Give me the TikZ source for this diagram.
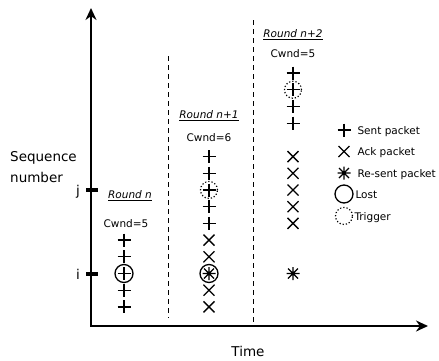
\documentclass[tikz,border=0pt]{standalone}
\usepackage{fontspec}
\setmainfont{DejaVu Sans}
\usetikzlibrary{arrows.meta}

\tikzset{
  mark line/.style={line width=1.3pt},
  sent/.pic={\draw[mark line] (-6.5,0) -- (6.5,0) (0,-6.5) -- (0,6.5);},
  ack/.pic={\draw[mark line] (-5.5,-5.5) -- (5.5,5.5) (-5.5,5.5) -- (5.5,-5.5);},
  resent/.pic={\draw[mark line] (-6.5,0) -- (6.5,0) (0,-6.5) -- (0,6.5)
                (-5,-5) -- (5,5) (-5,5) -- (5,-5);},
  lost/.style={draw, circle, line width=1.3pt, minimum size=18pt, inner sep=0pt},
  trigger/.style={draw, circle, dotted, line width=1.2pt, minimum size=17pt, inner sep=0pt},
  axis/.style={line width=2pt, {Stealth[length=12pt,width=11pt]}-{Stealth[length=12pt,width=11pt]}},
  tick/.style={line width=4pt},
  round sep/.style={dash pattern=on 5pt off 4pt, line width=1pt},
  big/.style={font=\fontsize{13.5}{21}\selectfont},
  small/.style={font=\fontsize{10.5}{12}\selectfont},
  legend/.style={font=\fontsize{10.5}{13}\selectfont, anchor=base west},
}

\begin{document}
\begin{tikzpicture}[x=1pt,y=-1pt]
    \useasboundingbox (0,0) rectangle (439,360);
    % Axes
    \coordinate (origin) at (91,326);
    \coordinate (ytip) at (91,8);
    \coordinate (xtip) at (428,326);
    \draw[axis] (ytip) -- (origin) -- (xtip);
    \draw[tick] (86,190) -- (98,190);
    \draw[tick] (86,274) -- (98,274);
    % Axis labels
    \node[big, align=left, anchor=west, inner sep=0pt] (seqlabel) at (10,167.5) {Sequence\\number};
    \node[big, anchor=base] (jlabel) at (78,195) {j};
    \node[big, anchor=base] (ilabel) at (78,279) {i};
    \node[big, anchor=base] (timelabel) at (248,356) {Time};
    % Round separators
    \draw[round sep] (168,56) -- (168,318);
    \draw[round sep] (253,20) -- (253,326);
    % Round labels
    \node[small, anchor=base] (roundn) at (130,198.5) {\underline{\textit{Round n}}};
    \node[small, anchor=base] (cwndn) at (126,227) {Cwnd=5};
    \node[small, anchor=base] (roundna) at (209,118.5) {\underline{\textit{Round n+1}}};
    \node[small, anchor=base] (cwndna) at (209,141) {Cwnd=6};
    \node[small, anchor=base] (roundnb) at (293,37.5) {\underline{\textit{Round n+2}}};
    \node[small, anchor=base] (cwndnb) at (293,57) {Cwnd=5};
    % Round n
    \foreach \k in {-2,...,2}
      \pic at (124,{273.5-16.7*\k}) {sent};
    \node[lost] (lostn) at (124,273.5) {};
    % Round n+1
    \foreach \k in {3,...,7}
      \pic at (209,{273.5-16.7*\k}) {sent};
    \foreach \k in {-2,-1,1,2}
      \pic at (209,{273.5-16.7*\k}) {ack};
    \pic at (209,273.5) {resent};
    \node[lost] (lostna) at (209,273.5) {};
    \node[trigger] (trigna) at (209,{273.5-16.7*5}) {};
    % Round n+2
    \foreach \k in {9,...,12}
      \pic at (293,{273.5-16.7*\k}) {sent};
    \foreach \k in {3,...,7}
      \pic at (293,{273.5-16.7*\k}) {ack};
    \pic at (293,273.5) {resent};
    \node[trigger] (trignb) at (293,{273.5-16.7*11}) {};
    % Legend
    \pic at (344,130) {sent};
    \pic at (344,151.5) {ack};
    \pic at (344,173) {resent};
    \node[lost] (lostkey) at (344,194) {};
    \node[trigger] (trigkey) at (344,216) {};
    \node[legend] (sentkey) at (354,134) {Sent packet};
    \node[legend] (ackkey) at (354,155.5) {Ack packet};
    \node[legend] (resentkey) at (354,177) {Re-sent packet};
    \node[legend] (lostlabel) at (352,198) {Lost};
    \node[legend] (triglabel) at (351,220) {Trigger};
\end{tikzpicture}
\end{document}
